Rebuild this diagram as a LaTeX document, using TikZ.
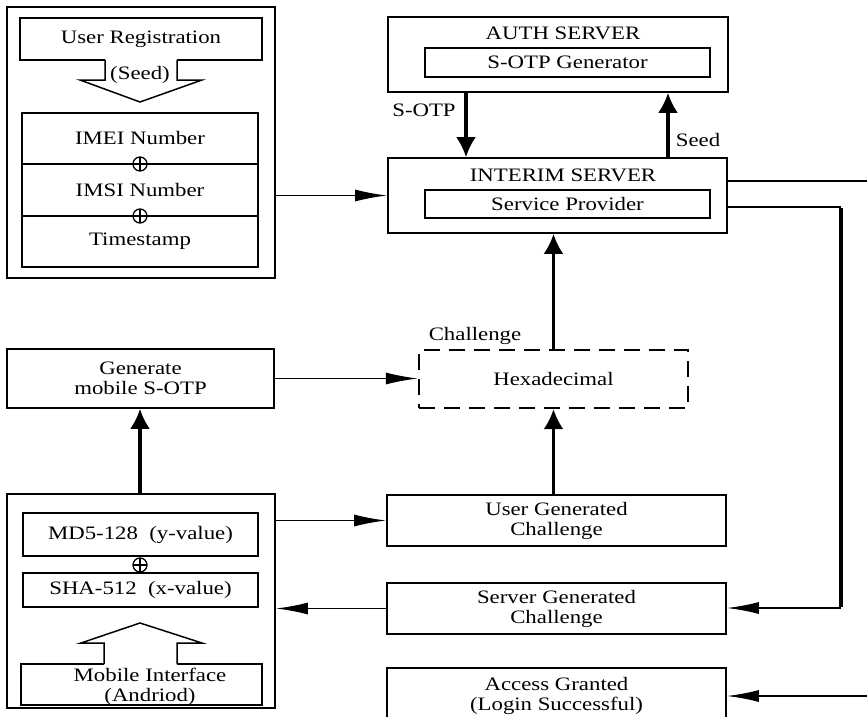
\documentclass[tikz,border=0pt]{standalone}
\usepackage{fontspec}
\setmainfont{Liberation Serif}[FakeStretch=1.2]
\usetikzlibrary{arrows.meta}
\begin{document}
\begin{tikzpicture}[x=1pt,y=-1pt,
  font=\fontsize{19}{20}\selectfont,
  box/.style={draw, line width=1.7pt, inner sep=0pt, align=center},
  dashbox/.style={box, line width=2.2pt, dash pattern=on 16pt off 9pt},
  lbl/.style={inner sep=0pt},
  xor/.style={circle, draw, line width=1.3pt, minimum size=14pt, inner sep=0pt, fill=white,
    path picture={\draw[line width=1.3pt]
      (path picture bounding box.north) -- (path picture bounding box.south)
      (path picture bounding box.west) -- (path picture bounding box.east);}},
  thinline/.style={line width=1.7pt},
  thickline/.style={line width=3.2pt},
  thinarrow/.style={line width=1.7pt, -{Latex[length=32pt,width=12pt]}},
  thickarrow/.style={line width=3.2pt, -{Latex[length=20pt,width=20pt]}},
  blockarrow/.style={line width=1.5pt, line join=miter}
]
% page
\fill[white] (0,0) rectangle (867,717);
\useasboundingbox (0,0) rectangle (867,717);

% ---- registration block (top left)
\node[box, minimum width=268pt, minimum height=271pt] (tl) at (141,142.5) {};
\node[box, minimum width=242pt, minimum height=42pt] (ureg) at (141,39) {User Registration};
\node[box, minimum width=236pt, minimum height=51pt] (imei) at (140,138.5) {IMEI Number};
\node[box, minimum width=236pt, minimum height=52pt] (imsi) at (140,190) {IMSI Number};
\node[box, minimum width=236pt, minimum height=51pt] (ts) at (140,241.5) {Timestamp};
\node[xor] (x1) at (140,164) {};
\node[xor] (x2) at (140,216) {};
% hollow arrow carrying the seed
\fill[white] (105,59) -- (105,80) -- (80,80) -- (140,102) -- (202,80) -- (177,80) -- (177,59) -- cycle;
\draw[blockarrow] (105,60) -- (105,80) -- (80,80) -- (140,102) -- (202,80) -- (177,80) -- (177,60);
\node[lbl] (seedtxt) at (140,75) {(Seed)};

% ---- servers
\node[box, minimum width=340pt, minimum height=75pt] (auth) at (558,54.5) {};
\node[lbl] (authtitle) at (563,33) {AUTH SERVER};
\node[box, minimum width=285pt, minimum height=29pt] (gen) at (567.5,62.5) {S-OTP Generator};
\node[box, minimum width=339pt, minimum height=75pt] (interim) at (557.5,195.5) {};
\node[lbl] (intitle) at (563,175) {INTERIM SERVER};
\node[box, minimum width=285pt, minimum height=28pt] (sp) at (567.5,204) {Service Provider};

% ---- middle row
\node[box, minimum width=267pt, minimum height=59pt] (genotp) at (140.5,378.5) {Generate\\mobile S-OTP};
\node[dashbox, minimum width=269pt, minimum height=58pt] (hex) at (553.5,379) {Hexadecimal};
\node[lbl] (lchal) at (475,336) {Challenge};

% ---- mobile block (bottom left)
\node[box, minimum width=268pt, minimum height=214pt] (bl) at (141,601) {};
\node[box, minimum width=235pt, minimum height=43pt] (md5) at (140.5,534.5) {MD5-128~ (y-value)};
\node[box, minimum width=235pt, minimum height=34pt] (sha) at (140.5,590) {SHA-512~ (x-value)};
\node[xor] (x3) at (140,565) {};
\node[box, minimum width=241pt, minimum height=41pt] (mobile) at (141.5,684.5) {};
\fill[white] (104,665) -- (104,643) -- (81,643) -- (140,623) -- (202,643) -- (177,643) -- (177,665) -- cycle;
\draw[blockarrow] (104,664) -- (104,643) -- (81,643) -- (140,623) -- (202,643) -- (177,643) -- (177,664);
\node[lbl, align=center] (mobtxt) at (150,687) {Mobile Interface\\(Andriod)};

% ---- challenge / result boxes
\node[box, minimum width=339pt, minimum height=51pt] (ugc) at (556.5,520.5) {User Generated\\Challenge};
\node[box, minimum width=339pt, minimum height=51pt] (sgc) at (556.5,608.5) {Server Generated\\Challenge};
\node[box, minimum width=339pt, minimum height=56pt] (acc) at (556.5,696) {Access Granted\\(Login Successful)};

% ---- connectors
\coordinate (xa) at (466,0);
\coordinate (xb) at (668,0);
\draw[thinarrow] (tl.east |- interim.west) -- (interim.west);
\draw[thickarrow] (auth.south -| xa) -- (interim.north -| xa);
\draw[thickarrow] (interim.north -| xb) -- (auth.south -| xb);
\node[lbl] (lsotp) at (424,110) {S-OTP};
\node[lbl] (lseed) at (698,140) {Seed};
\draw[thickarrow] (hex.north) -- (interim.south -| hex.north);
\draw[thickarrow] (ugc.north -| hex.south) -- (hex.south);
\draw[thinarrow] (genotp.east) -- (hex.west |- genotp.east);
\draw[thickarrow] (bl.north -| 140,0) -- (genotp.south -| 140,0);
\draw[thinarrow] (bl.east |- ugc.west) -- (ugc.west);
\draw[thinarrow] (sgc.west) -- (bl.east |- sgc.west);

\coordinate (out1) at (867,181);
\coordinate (in1) at (867,696);
\draw[thinline] (interim.east |- out1) -- (out1);
\draw[thinarrow] (in1) -- (acc.east |- in1);

\coordinate (r1) at (841,207);
\coordinate (r2) at (841,608);
\draw[thinline] (interim.east |- r1) -- (r1);
\draw[thickline] ([yshift=-0.8pt]r1) -- ([yshift=0.8pt]r2);
\draw[thinarrow] (r2) -- (sgc.east |- r2);
\end{tikzpicture}
\end{document}
